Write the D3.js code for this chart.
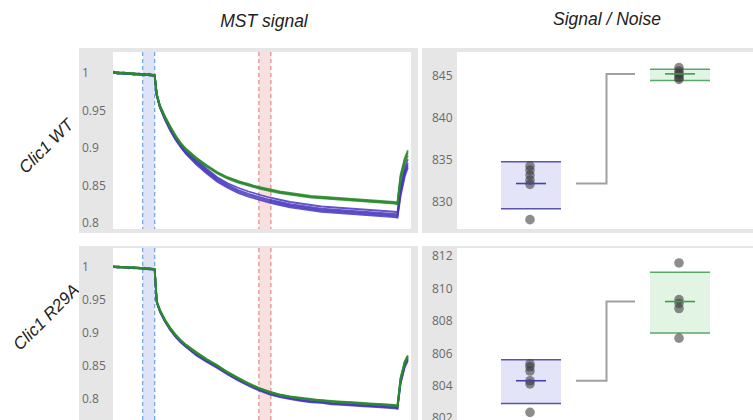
<!DOCTYPE html>
<html><head><meta charset="utf-8">
<script src="https://cdn.jsdelivr.net/npm/d3@7"></script>
<style>body{margin:0;background:#fff}svg{display:block}</style>
</head><body>
<svg id="chart" width="753" height="420"></svg>
<script>
// ---------- DATA ----------
const rowLabels = ["Clic1 WT", "Clic1 R29A"];
const columnTitles = ["MST signal", "Signal / Noise"];
const groups = ["blue", "green"];

// time (s) of MST trace samples
const times = [-4,-3.5,-3,-2.5,-2,-1.5,-1,-0.5,0,0.2,0.5,1,1.5,2,2.5,3,4,5,6,7,8,9,10,11,12,13,14,15,16,17,18,19,20,21,22,23,23.3,23.6,24,24.3];
const coldBand = [-1.15, 0];
const hotBand = [10, 11.15];

// Clic1 WT traces (normalised fluorescence)
const wtBlue1 = [1.001,1.000,1.000,0.999,0.999,0.999,0.998,0.998,0.997,0.972,0.956,0.940,0.927,0.915,0.905,0.896,0.884,0.872,0.861,0.853,0.847,0.842,0.838,0.834,0.831,0.828,0.826,0.824,0.822,0.821,0.820,0.819,0.818,0.817,0.816,0.815,0.814,0.848,0.874,0.885];
const wtBlue2 = [1.000,1.001,0.999,1.000,0.998,0.999,0.998,0.997,0.997,0.971,0.955,0.939,0.926,0.914,0.904,0.895,0.882,0.870,0.859,0.851,0.844,0.839,0.835,0.831,0.828,0.825,0.823,0.821,0.819,0.818,0.817,0.816,0.815,0.814,0.813,0.812,0.811,0.844,0.869,0.880];
const wtBlue3 = [1.001,0.999,1.000,0.999,0.999,0.998,0.997,0.998,0.996,0.970,0.954,0.938,0.924,0.912,0.902,0.893,0.880,0.868,0.857,0.849,0.842,0.837,0.833,0.829,0.826,0.823,0.821,0.819,0.817,0.816,0.815,0.814,0.813,0.812,0.811,0.810,0.809,0.840,0.866,0.877];
const wtBlue4 = [1.000,1.000,0.999,0.999,0.998,0.998,0.998,0.997,0.996,0.970,0.954,0.937,0.923,0.911,0.901,0.892,0.878,0.866,0.855,0.847,0.840,0.835,0.831,0.827,0.824,0.821,0.819,0.817,0.815,0.814,0.813,0.812,0.811,0.810,0.809,0.808,0.807,0.836,0.862,0.874];
const wtGreen1 = [1.002,1.000,1.001,0.999,1.000,0.998,0.999,0.997,0.997,0.972,0.957,0.942,0.928,0.917,0.906,0.899,0.887,0.877,0.868,0.861,0.856,0.851,0.848,0.845,0.842,0.840,0.838,0.836,0.835,0.834,0.833,0.832,0.831,0.830,0.829,0.828,0.827,0.864,0.886,0.897];
const wtGreen2 = [1.000,1.001,0.999,1.000,0.998,0.999,0.998,0.998,0.996,0.970,0.955,0.940,0.927,0.915,0.905,0.897,0.885,0.875,0.866,0.859,0.854,0.850,0.846,0.843,0.840,0.838,0.836,0.834,0.833,0.832,0.831,0.830,0.829,0.828,0.827,0.826,0.825,0.858,0.880,0.890];
const wtGreen3 = [1.001,0.999,1.000,1.000,0.999,0.998,0.997,0.999,0.997,0.971,0.956,0.941,0.929,0.916,0.907,0.898,0.886,0.876,0.867,0.860,0.855,0.852,0.847,0.844,0.841,0.839,0.837,0.835,0.834,0.833,0.832,0.831,0.830,0.829,0.828,0.827,0.826,0.861,0.884,0.894];

// Clic1 R29A traces
const mutBlue1 = [1.000,1.000,0.999,0.999,0.998,0.998,0.998,0.997,0.996,0.946,0.933,0.917,0.905,0.895,0.886,0.879,0.867,0.857,0.848,0.838,0.829,0.821,0.814,0.808,0.804,0.801,0.798,0.796,0.795,0.793,0.792,0.791,0.790,0.789,0.788,0.787,0.786,0.825,0.850,0.860];
const mutBlue2 = [1.001,1.000,1.000,0.999,0.999,0.998,0.997,0.997,0.996,0.947,0.934,0.918,0.906,0.895,0.887,0.880,0.868,0.858,0.849,0.839,0.830,0.822,0.815,0.809,0.805,0.802,0.799,0.797,0.796,0.794,0.793,0.792,0.791,0.790,0.789,0.788,0.787,0.827,0.852,0.862];
const mutBlue3 = [1.000,0.999,1.000,0.998,0.999,0.998,0.998,0.996,0.996,0.946,0.932,0.917,0.904,0.894,0.886,0.879,0.866,0.856,0.847,0.837,0.828,0.820,0.813,0.807,0.803,0.800,0.797,0.795,0.794,0.792,0.791,0.790,0.789,0.788,0.787,0.786,0.785,0.823,0.848,0.858];
const mutGreen1 = [1.001,1.000,1.000,0.999,1.000,0.999,0.998,0.998,0.997,0.948,0.935,0.919,0.907,0.897,0.889,0.882,0.870,0.860,0.851,0.841,0.832,0.824,0.817,0.811,0.807,0.804,0.802,0.800,0.798,0.797,0.796,0.795,0.794,0.793,0.792,0.791,0.790,0.832,0.857,0.866];
const mutGreen2 = [1.000,1.001,0.999,1.000,0.999,0.998,0.999,0.997,0.997,0.947,0.934,0.918,0.906,0.896,0.888,0.881,0.869,0.859,0.850,0.840,0.831,0.823,0.816,0.810,0.806,0.803,0.801,0.799,0.797,0.796,0.795,0.794,0.793,0.792,0.791,0.790,0.789,0.829,0.854,0.863];
const mutGreen3 = [1.001,0.999,1.000,0.999,0.999,0.999,0.998,0.998,0.996,0.948,0.935,0.920,0.908,0.898,0.889,0.882,0.871,0.860,0.851,0.840,0.832,0.823,0.816,0.811,0.806,0.803,0.801,0.799,0.798,0.796,0.795,0.794,0.793,0.792,0.791,0.790,0.789,0.831,0.856,0.865];

// Signal / Noise replicate points and box statistics
const wtBluePts = [834.3, 833.8, 833.2, 832.6, 832.1, 827.9];
const wtGreenPts = [846.0, 845.6, 845.3, 845.1, 844.8, 844.6];
const wtBoxLow = [829.2, 844.45];
const wtBoxMid = [832.2, 845.25];
const wtBoxHigh = [834.8, 845.8];
const mutBluePts = [805.34, 805.16, 804.9, 804.3, 804.1, 802.35];
const mutGreenPts = [811.57, 809.31, 809.07, 808.76, 806.93];
const mutBoxLow = [802.9, 807.24];
const mutBoxMid = [804.3, 809.19];
const mutBoxHigh = [805.59, 811.0];

// tick labels
const mstTicks = [0.8, 0.85, 0.9, 0.95, 1];
const mstTickLabels = ["0.8", "0.85", "0.9", "0.95", "1"];
const wtSnTicks = [830, 835, 840, 845];
const mutSnTicks = [802, 804, 806, 808, 810, 812];

// ---------- LAYOUT ----------
const svg = d3.select("#chart");
const colBlue = "#4535c0", colGreen = "#2a8a2e";
const boxFill = {blue: "#e4e4f8", green: "#e2f4e4"};
const boxLine = {blue: "#5a52b0", green: "#5aa868"};
const medLine = {blue: "#4a40a8", green: "#3f9a50"};
const frameCol = "#e6e6e6";
const tickFont = "'Open Sans', sans-serif";

const rows = [
  {top: 48, innerTop: 52, innerBottom: 229, bottom: 233,
   mstRange: [223, 73], snDomain: [830, 845], snRange: [202, 76], snTicks: wtSnTicks,
   blue: [wtBlue1, wtBlue2, wtBlue3, wtBlue4], green: [wtGreen1, wtGreen2, wtGreen3],
   pts: [wtBluePts, wtGreenPts], low: wtBoxLow, mid: wtBoxMid, high: wtBoxHigh, labelY: 147},
  {top: 246, innerTop: 248, innerBottom: 470, bottom: 474,
   mstRange: [399, 267], snDomain: [802, 812], snRange: [418, 256], snTicks: mutSnTicks,
   blue: [mutBlue1, mutBlue2, mutBlue3], green: [mutGreen1, mutGreen2, mutGreen3],
   pts: [mutBluePts, mutGreenPts], low: mutBoxLow, mid: mutBoxMid, high: mutBoxHigh, labelY: 318}
];
const L = {x0: 79, inner0: 113, inner1: 411, x1: 418};
const R = {x0: 422, inner0: 457, inner1: 800, x1: 800};

const x = d3.scaleLinear().domain([-4, 24.6]).range([L.inner0, L.inner1]);
const xs = d3.scalePoint().domain(groups).range([531, 680]);

// titles
svg.append("text").attr("x", 264).attr("y", 27).attr("text-anchor", "middle")
  .attr("font-family", "'Liberation Sans', Arial, sans-serif").attr("font-style", "italic")
  .attr("font-size", 17.5).attr("fill", "#222").text(columnTitles[0]);
svg.append("text").attr("x", 607).attr("y", 25).attr("text-anchor", "middle")
  .attr("font-family", "'Liberation Sans', Arial, sans-serif").attr("font-style", "italic")
  .attr("font-size", 17.5).attr("fill", "#222").text(columnTitles[1]);

const defs = svg.append("defs");

rows.forEach((r, ri) => {
  // row label
  svg.append("text")
    .attr("transform", `translate(47,${r.labelY}) rotate(-45)`)
    .attr("text-anchor", "middle").attr("dominant-baseline", "middle")
    .attr("font-family", "'Liberation Sans', Arial, sans-serif").attr("font-style", "italic")
    .attr("font-size", 17).attr("fill", "#222").text(rowLabels[ri]);

  // ----- MST panel -----
  svg.append("rect").attr("x", L.x0).attr("y", r.top).attr("width", L.x1 - L.x0).attr("height", r.bottom - r.top).attr("fill", frameCol);
  svg.append("rect").attr("x", L.inner0).attr("y", r.innerTop).attr("width", L.inner1 - L.inner0).attr("height", r.innerBottom - r.innerTop).attr("fill", "#fff");

  const y = d3.scaleLinear().domain([0.8, 1]).range(r.mstRange);
  const cid = "clipL" + ri;
  defs.append("clipPath").attr("id", cid).append("rect")
    .attr("x", L.inner0).attr("y", r.innerTop).attr("width", L.inner1 - L.inner0).attr("height", r.innerBottom - r.innerTop);
  const g = svg.append("g").attr("clip-path", `url(#${cid})`);

  // bands
  g.append("rect").attr("x", x(coldBand[0])).attr("width", x(coldBand[1]) - x(coldBand[0]))
    .attr("y", r.innerTop).attr("height", r.innerBottom - r.innerTop).attr("fill", "#dfe3f7");
  g.append("rect").attr("x", x(hotBand[0])).attr("width", x(hotBand[1]) - x(hotBand[0]))
    .attr("y", r.innerTop).attr("height", r.innerBottom - r.innerTop).attr("fill", "#f9e0e0");
  coldBand.forEach(t => g.append("line").attr("x1", x(t)).attr("x2", x(t)).attr("y1", r.innerTop).attr("y2", r.innerBottom)
    .attr("stroke", "#6ea2e0").attr("stroke-width", 1.2).attr("stroke-dasharray", "4,3"));
  hotBand.forEach(t => g.append("line").attr("x1", x(t)).attr("x2", x(t)).attr("y1", r.innerTop).attr("y2", r.innerBottom)
    .attr("stroke", "#e08a8a").attr("stroke-width", 1.2).attr("stroke-dasharray", "4,3"));

  const line = d3.line().x((d, i) => x(times[i])).y(d => y(d));
  r.blue.forEach(tr => g.append("path").attr("d", line(tr)).attr("fill", "none")
    .attr("stroke", colBlue).attr("stroke-width", 1.8).attr("stroke-opacity", 0.85));
  r.green.forEach(tr => g.append("path").attr("d", line(tr)).attr("fill", "none")
    .attr("stroke", colGreen).attr("stroke-width", 1.9).attr("stroke-opacity", 0.85));

  const axL = svg.append("g").attr("transform", `translate(${L.x0 + 3},0)`)
    .call(d3.axisRight(y).tickValues(mstTicks).tickFormat((d, i) => mstTickLabels[i]).tickSize(0).tickPadding(0));
  axL.select(".domain").remove();
  axL.selectAll("text").attr("font-family", tickFont).attr("font-size", 12).attr("fill", "#6a6a6a");

  // ----- Signal/Noise panel -----
  svg.append("rect").attr("x", R.x0).attr("y", r.top).attr("width", R.x1 - R.x0).attr("height", r.bottom - r.top).attr("fill", frameCol);
  svg.append("rect").attr("x", R.inner0).attr("y", r.innerTop).attr("width", R.inner1 - R.inner0).attr("height", r.innerBottom - r.innerTop).attr("fill", "#fff");
  const ys = d3.scaleLinear().domain(r.snDomain).range(r.snRange);
  const cidR = "clipR" + ri;
  defs.append("clipPath").attr("id", cidR).append("rect")
    .attr("x", R.inner0).attr("y", r.innerTop).attr("width", R.inner1 - R.inner0).attr("height", r.innerBottom - r.innerTop);
  const gr = svg.append("g").attr("clip-path", `url(#${cidR})`);

  groups.forEach((grp, gi) => {
    const cx = xs(grp);
    gr.append("rect").attr("x", cx - 30).attr("width", 60)
      .attr("y", ys(r.high[gi])).attr("height", ys(r.low[gi]) - ys(r.high[gi])).attr("fill", boxFill[grp]);
    [r.high[gi], r.low[gi]].forEach(v => gr.append("line").attr("x1", cx - 30).attr("x2", cx + 30)
      .attr("y1", ys(v)).attr("y2", ys(v)).attr("stroke", boxLine[grp]).attr("stroke-width", 1.5));
  });
  // connector
  const m0 = ys(r.mid[0]), m1 = ys(r.mid[1]);
  const cA = xs(groups[0]) + 45, cB = (xs(groups[0]) + xs(groups[1])) / 2 + 1, cC = xs(groups[1]) - 45;
  gr.append("path").attr("d", `M${cA},${m0}H${cB}V${m1}H${cC}`).attr("fill", "none")
    .attr("stroke", "#a0a0a0").attr("stroke-width", 2);
  groups.forEach((grp, gi) => {
    const cx = xs(grp);
    gr.selectAll(null).data(r.pts[gi]).enter().append("circle")
      .attr("cx", cx - 1).attr("cy", d => ys(d)).attr("r", 4.8)
      .attr("fill", "#3a3a3a").attr("fill-opacity", 0.58);
    gr.append("line").attr("x1", cx - 15).attr("x2", cx + 15).attr("y1", ys(r.mid[gi])).attr("y2", ys(r.mid[gi]))
      .attr("stroke", medLine[grp]).attr("stroke-width", 1.6);
  });

  const axR = svg.append("g").attr("transform", `translate(${R.x0 + 10},0)`)
    .call(d3.axisRight(ys).tickValues(r.snTicks).tickFormat(d3.format("d")).tickSize(0).tickPadding(0));
  axR.select(".domain").remove();
  axR.selectAll("text").attr("font-family", tickFont).attr("font-size", 12).attr("fill", "#6a6a6a");
});
</script>
</body></html>
